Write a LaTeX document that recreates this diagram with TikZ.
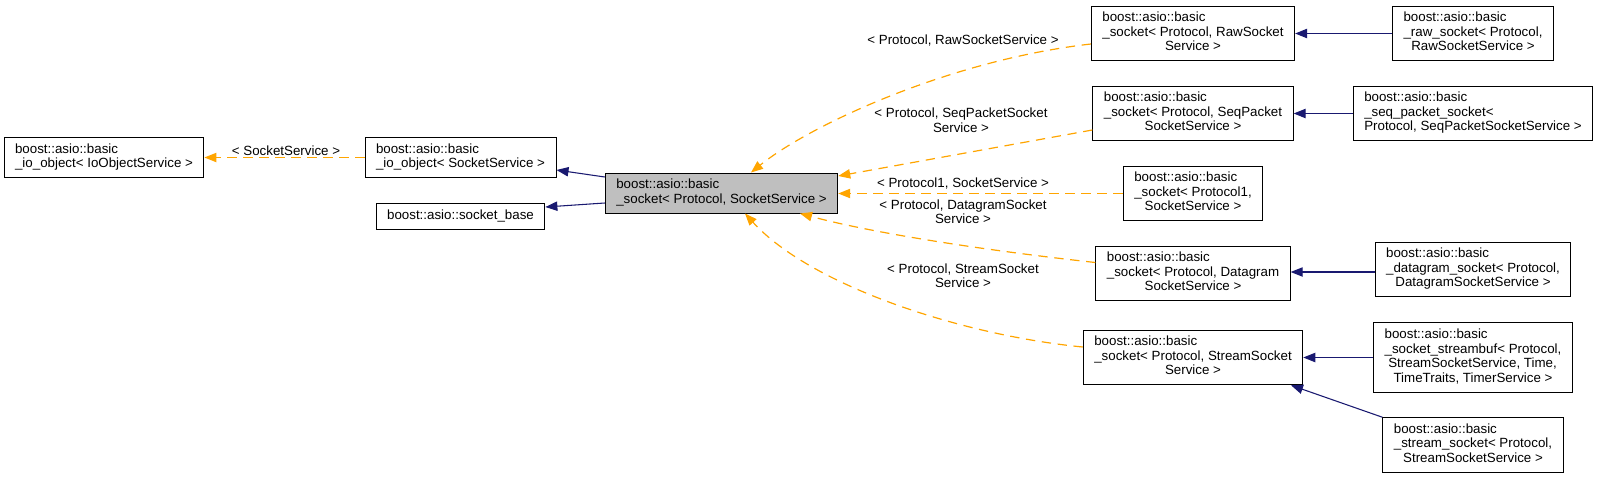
\documentclass[tikz,border=0pt]{standalone}
\usepackage{fontspec}
\setmainfont{Liberation Sans}
\usetikzlibrary{arrows.meta,calc}
\definecolor{edgeorange}{HTML}{FFA500}
\definecolor{edgeblue}{HTML}{191970}
\definecolor{graybox}{HTML}{BFBFBF}
\newcommand\cbox[1]{\begin{tabular}{@{}l@{}}#1\end{tabular}}
\newcommand\lastc[1]{\multicolumn{1}{@{}c@{}}{#1}}
\tikzset{
  cls/.style={draw=black, line width=0.75pt, fill=white, inner xsep=8.25pt, inner ysep=4.1pt,
    font=\fontsize{10}{10.9}\selectfont, anchor=center},
  cur/.style={cls, fill=graybox},
  lbl/.style={font=\fontsize{10}{10.9}\selectfont, align=center, inner sep=0pt},
  tmpl/.style={draw=edgeorange, line width=0.9pt, dash pattern=on 7pt off 5pt,
    -{Triangle[length=9pt,width=7pt,fill=edgeorange]}},
  inh/.style={draw=edgeblue, line width=0.8pt,
    -{Triangle[length=9pt,width=7pt,fill=edgeblue]}},
}
\begin{document}
\begin{tikzpicture}[x=0.75pt,y=-0.75pt]
\useasboundingbox (0,0) rectangle (1600,479);

% nodes
\node[cls] (A) at (104,157.5) {\cbox{boost::asio::basic\\\_io\_object< IoObjectService >}};
\node[cls] (B) at (460.5,157.5) {\cbox{boost::asio::basic\\\_io\_object< SocketService >}};
\node[cls] (C) at (460.5,216.5) {\cbox{boost::asio::socket\_base}};
\node[cur] (D) at (721.5,193) {\cbox{boost::asio::basic\\\_socket< Protocol, SocketService >}};

\node[cls] (E) at (1193,33.5) {\cbox{boost::asio::basic\\\_socket< Protocol, RawSocket\\\lastc{Service >}}};
\node[cls] (G) at (1193,113.5) {\cbox{boost::asio::basic\\\_socket< Protocol, SeqPacket\\\lastc{SocketService >}}};
\node[cls] (I) at (1193,193.5) {\cbox{boost::asio::basic\\\_socket< Protocol1,\\\lastc{SocketService >}}};
\node[cls] (J) at (1193,273.5) {\cbox{boost::asio::basic\\\_socket< Protocol, Datagram\\\lastc{SocketService >}}};
\node[cls] (L) at (1193,357.5) {\cbox{boost::asio::basic\\\_socket< Protocol, StreamSocket\\\lastc{Service >}}};

\node[cls] (F) at (1473,33.5) {\cbox{boost::asio::basic\\\_raw\_socket< Protocol,\\\lastc{RawSocketService >}}};
\node[cls] (H) at (1473,113.5) {\cbox{boost::asio::basic\\\_seq\_packet\_socket<\\\lastc{Protocol, SeqPacketSocketService >}}};
\node[cls] (K) at (1473,269.5) {\cbox{boost::asio::basic\\\_datagram\_socket< Protocol,\\\lastc{DatagramSocketService >}}};
\node[cls] (M) at (1473,357.5) {\cbox{boost::asio::basic\\\_socket\_streambuf< Protocol,\\~StreamSocketService, Time,\\\lastc{TimeTraits, TimerService >}}};
\node[cls] (N) at (1473,445) {\cbox{boost::asio::basic\\\_stream\_socket< Protocol,\\\lastc{StreamSocketService >}}};

% edge labels
\node[lbl] (l1) at (286,151) {< SocketService >};
\node[lbl] (l2) at (963,41) {< Protocol, RawSocketService >};
\node[lbl] (l3) at (961,120) {< Protocol, SeqPacketSocket\\Service >};
\node[lbl] (l4) at (963,184) {< Protocol1, SocketService >};
\node[lbl] (l5) at (963,211.5) {< Protocol, DatagramSocket\\Service >};
\node[lbl] (l6) at (963,275.5) {< Protocol, StreamSocket\\Service >};

% inheritance (blue)
\draw[inh] ($(D.west)+(0,-16)$) -- ($(B.east)+(0,12.5)$);
\draw[inh] ($(D.west)+(0,10)$) -- ($(C.east)+(0,-9.5)$);
\draw[inh] (F.west) -- (E.east);
\draw[inh] (H.west) -- (G.east);
\draw[inh] ($(K.west)+(0,2.5)$) -- ($(J.east)+(0,-1.5)$);
\draw[inh] (M.west) -- (L.east);
\draw[inh] (N.north west) -- ($(L.south)+(98,0)$);

% template instantiations (orange dashed)
\draw[tmpl] (B.west) -- (A.east);
\draw[tmpl] ($(E.west)+(0,10.5)$) .. controls (950,60) and (810,125) .. ($(D.north)+(29.5,0)$);
\draw[tmpl] ($(G.west)+(0,16.5)$) -- ($(D.east)+(0,-17)$);
\draw[tmpl] (I.west) -- ($(D.east)+(0,0.5)$);
\draw[tmpl] ($(J.west)+(0,-11)$) .. controls (1000,252) and (880,235) .. ($(D.south)+(78.5,0)$);
\draw[tmpl] ($(L.west)+(0,-10.5)$) .. controls (960,335) and (810,285) .. ($(D.south)+(23.5,0)$);
\end{tikzpicture}
\end{document}
